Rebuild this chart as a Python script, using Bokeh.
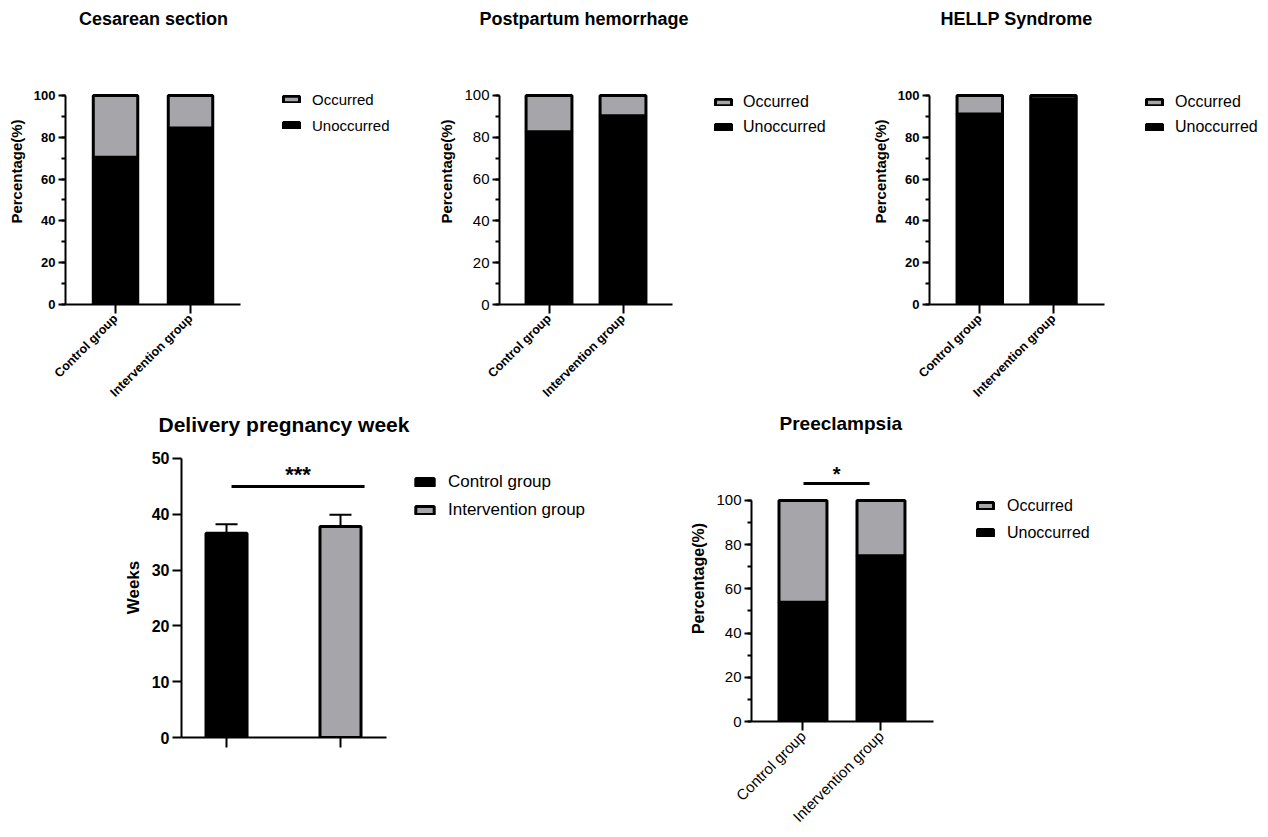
import math
from bokeh.plotting import figure
from bokeh.models import (Range1d, SingleIntervalTicker, FixedTicker, Legend,
                          LegendItem, Label, ColumnDataSource, Whisker, TeeHead)
from bokeh.layouts import column, row
from bokeh.embed import file_html
from bokeh.resources import INLINE

FONT = "Liberation Sans"
GRAY = "#a6a6aa"

# ---------------- data ----------------
groups = ["Control group", "Intervention group"]
group_pos = [0, 1]
stack_labels = ["Unoccurred", "Occurred"]

cesarean_unoccurred = [70.5, 84.5]
cesarean_occurred = [29.5, 15.5]

postpartum_unoccurred = [82.6, 90.3]
postpartum_occurred = [17.4, 9.7]

hellp_unoccurred = [91.2, 98.4]
hellp_occurred = [8.8, 1.6]

preeclampsia_unoccurred = [54.0, 75.0]
preeclampsia_occurred = [46.0, 25.0]

delivery_mean = [36.6, 37.8]
delivery_upper = [38.2, 39.9]

delivery_sig_x = [0.044, 1.211]
delivery_sig_y = [45.0, 45.0]
delivery_sig_text = "***"
preeclampsia_sig_x = [0.007, 0.853]
preeclampsia_sig_y = [107.7, 107.7]
preeclampsia_sig_text = "*"

titles = ["Cesarean section", "Postpartum hemorrhage", "HELLP Syndrome",
          "Delivery pregnancy week", "Preeclampsia"]


def base_fig(width, height, left, top, bottom, x_range, y_range, title, title_size,
             title_offset, title_standoff):
    p = figure(width=width, height=height, x_range=x_range, y_range=y_range,
               output_backend="svg", toolbar_location=None,
               min_border_left=left, min_border_right=0, min_border_top=top,
               min_border_bottom=bottom)
    p.outline_line_color = None
    p.grid.visible = False
    p.background_fill_color = "white"
    p.border_fill_color = "white"
    p.title.text = title
    p.title.text_font = FONT
    p.title.text_font_style = "bold"
    p.title.text_font_size = title_size
    p.title.text_color = "black"
    p.title.align = "left"
    p.title.offset = title_offset
    p.title.standoff = title_standoff
    p.title.vertical_align = "top"
    return p


def style_axes(p, xbounds, ybounds, interval, minor, ytick_size, ytick_style, ylabel,
               ylabel_size, xtick_size, xtick_style, ytick_out=7, xtick_out=9, xlabels=True,
               xstandoff=0):
    ya = p.yaxis[0]
    ya.bounds = ybounds
    ya.ticker = SingleIntervalTicker(interval=interval, num_minor_ticks=minor)
    ya.axis_label = ylabel
    ya.axis_label_text_font = FONT
    ya.axis_label_text_font_style = "bold"
    ya.axis_label_text_font_size = ylabel_size
    ya.axis_label_text_color = "black"
    ya.axis_label_standoff = 6
    ya.major_label_text_font = FONT
    ya.major_label_text_font_style = ytick_style
    ya.major_label_text_font_size = ytick_size
    ya.major_label_text_color = "black"
    ya.major_label_standoff = 3
    ya.axis_line_width = 2
    ya.axis_line_color = "black"
    ya.major_tick_line_width = 2
    ya.major_tick_line_color = "black"
    ya.major_tick_out = ytick_out
    ya.major_tick_in = 0
    ya.minor_tick_line_width = 2
    ya.minor_tick_line_color = "black"
    ya.minor_tick_out = 4
    ya.minor_tick_in = 0

    xa = p.xaxis[0]
    xa.bounds = xbounds
    xa.ticker = FixedTicker(ticks=group_pos)
    if xlabels:
        xa.major_label_overrides = {k: g for k, g in zip(group_pos, groups)}
        xa.major_label_orientation = math.pi / 4
    else:
        xa.major_label_overrides = {k: "" for k in group_pos}
    xa.major_label_text_font = FONT
    xa.major_label_text_font_style = xtick_style
    xa.major_label_text_font_size = xtick_size
    xa.major_label_text_color = "black"
    xa.major_label_standoff = xstandoff
    xa.axis_line_width = 2
    xa.axis_line_color = "black"
    xa.major_tick_line_width = 2
    xa.major_tick_line_color = "black"
    xa.major_tick_out = xtick_out
    xa.major_tick_in = 0
    xa.minor_tick_line_color = None


def add_legend(p, items, loc, font_size, label_h, glyph_w, glyph_h, spacing, standoff):
    leg = Legend(items=items, location=loc, padding=0, margin=0, spacing=spacing,
                 glyph_width=glyph_w, glyph_height=glyph_h, label_height=label_h,
                 label_standoff=standoff, label_text_font=FONT, label_text_font_size=font_size,
                 label_text_color="black", border_line_color=None, background_fill_alpha=0)
    p.add_layout(leg)


def pct_panel(width, height, left, top, bottom, x_range, xbound_end, y_top, bar_w, unocc, occ,
              title, title_size, title_offset, title_standoff, ytick_size, ytick_style,
              xtick_size, xtick_style, ylabel_size, legend_loc, legend_font, label_h, spacing,
              standoff, glyph_h=8, xstandoff=0):
    p = base_fig(width, height, left, top, bottom, x_range, Range1d(0, y_top), title,
                 title_size, title_offset, title_standoff)
    src = ColumnDataSource(dict(x=group_pos, Unoccurred=unocc, Occurred=occ))
    rs = p.vbar_stack(stack_labels, x="x", width=bar_w, source=src,
                      fill_color=["black", GRAY], line_color="black", line_width=3)
    style_axes(p, (x_range.start, xbound_end), (0, 100), 20, 2, ytick_size, ytick_style,
               "Percentage(%)", ylabel_size, xtick_size, xtick_style, xstandoff=xstandoff)
    add_legend(p, [LegendItem(label="Occurred", renderers=[rs[1]]),
                   LegendItem(label="Unoccurred", renderers=[rs[0]])],
               legend_loc, legend_font, label_h, 20, glyph_h, spacing, standoff)
    return p


TOP_H = 410
BOT_H = 425

p1 = pct_panel(420, TOP_H, 65, 38, 106, Range1d(-0.667, 4.067), 1.667, 127.27, 0.593,
               cesarean_unoccurred, cesarean_occurred, titles[0], "18px", 13.5, 15,
               "13px", "bold", "12.5px", "bold", "15px", (216, 170), "15px", 18, 8, 11,
               xstandoff=3)
p2 = pct_panel(420, TOP_H, 79, 38, 106, Range1d(-0.669, 3.939), 1.669, 127.27, 0.62,
               postpartum_unoccurred, postpartum_occurred, titles[1], "18px", -20, 15,
               "15px", "normal", "12.5px", "bold", "15px", (214, 167.5), "16px", 19, 6, 10,
               xstandoff=3)
p3 = pct_panel(424, TOP_H, 89, 38, 106, Range1d(-0.682, 3.863), 1.692, 127.27, 0.617,
               hellp_unoccurred, hellp_occurred, titles[2], "18px", 11, 15,
               "13px", "bold", "12.5px", "bold", "15px", (215, 168), "16px", 19, 6, 11,
               xstandoff=3)

# ---------------- Delivery pregnancy week ----------------
p4 = base_fig(640, BOT_H, 181, 27, 98, Range1d(-0.395, 3.632), Range1d(0, 53.76),
              titles[3], "21px", -23, 0)
dsrc = ColumnDataSource(dict(x=group_pos, top=delivery_mean, upper=delivery_upper,
                             color=["black", GRAY]))
r4 = p4.vbar(x="x", top="top", width=0.36, source=dsrc, fill_color="color",
             line_color="black", line_width=3)
p4.add_layout(Whisker(base="x", lower="top", upper="upper", source=dsrc, dimension="height",
                      line_color="black", line_width=2, lower_head=None,
                      upper_head=TeeHead(size=22, line_width=2, line_color="black"),
                      level="annotation"))
style_axes(p4, (-0.395, 1.404), (0, 50), 10, 0, "16px", "bold", "Weeks", "17px", "12px",
           "bold", ytick_out=9, xtick_out=10, xlabels=False)
p4.segment(x0=[delivery_sig_x[0]], y0=[delivery_sig_y[0]], x1=[delivery_sig_x[1]],
           y1=[delivery_sig_y[1]], line_color="black", line_width=3)
p4.add_layout(Label(x=sum(delivery_sig_x) / 2, y=delivery_sig_y[0], y_offset=12,
                    text=delivery_sig_text, text_font=FONT, text_font_style="bold",
                    text_font_size="22px", text_color="black", text_align="center",
                    text_baseline="alphabetic"))
add_legend(p4, [LegendItem(label="Control group", renderers=[r4], index=0),
                LegendItem(label="Intervention group", renderers=[r4], index=1)],
           (232, 217), "17px", 21, 23, 10, 7, 12)

# ---------------- Preeclampsia ----------------
p5 = pct_panel(624, BOT_H, 111, 25, 114, Range1d(-0.66, 5.917), 1.673, 129.4, 0.615,
               preeclampsia_unoccurred, preeclampsia_occurred, titles[4], "19px", 28, 0,
               "15px", "normal", "15px", "normal", "16px", (224, 179), "16px", 19, 8, 12,
               glyph_h=9, xstandoff=3)
p5.segment(x0=[preeclampsia_sig_x[0]], y0=[preeclampsia_sig_y[0]], x1=[preeclampsia_sig_x[1]],
           y1=[preeclampsia_sig_y[1]], line_color="black", line_width=3)
p5.add_layout(Label(x=sum(preeclampsia_sig_x) / 2, y=preeclampsia_sig_y[0], y_offset=9.5,
                    text=preeclampsia_sig_text, text_font=FONT, text_font_style="bold",
                    text_font_size="20px", text_color="black", text_align="center",
                    text_baseline="alphabetic"))

layout = column(row(p1, p2, p3), row(column(p4), column(p5)))
open("out.html", "w").write(file_html(layout, INLINE))
